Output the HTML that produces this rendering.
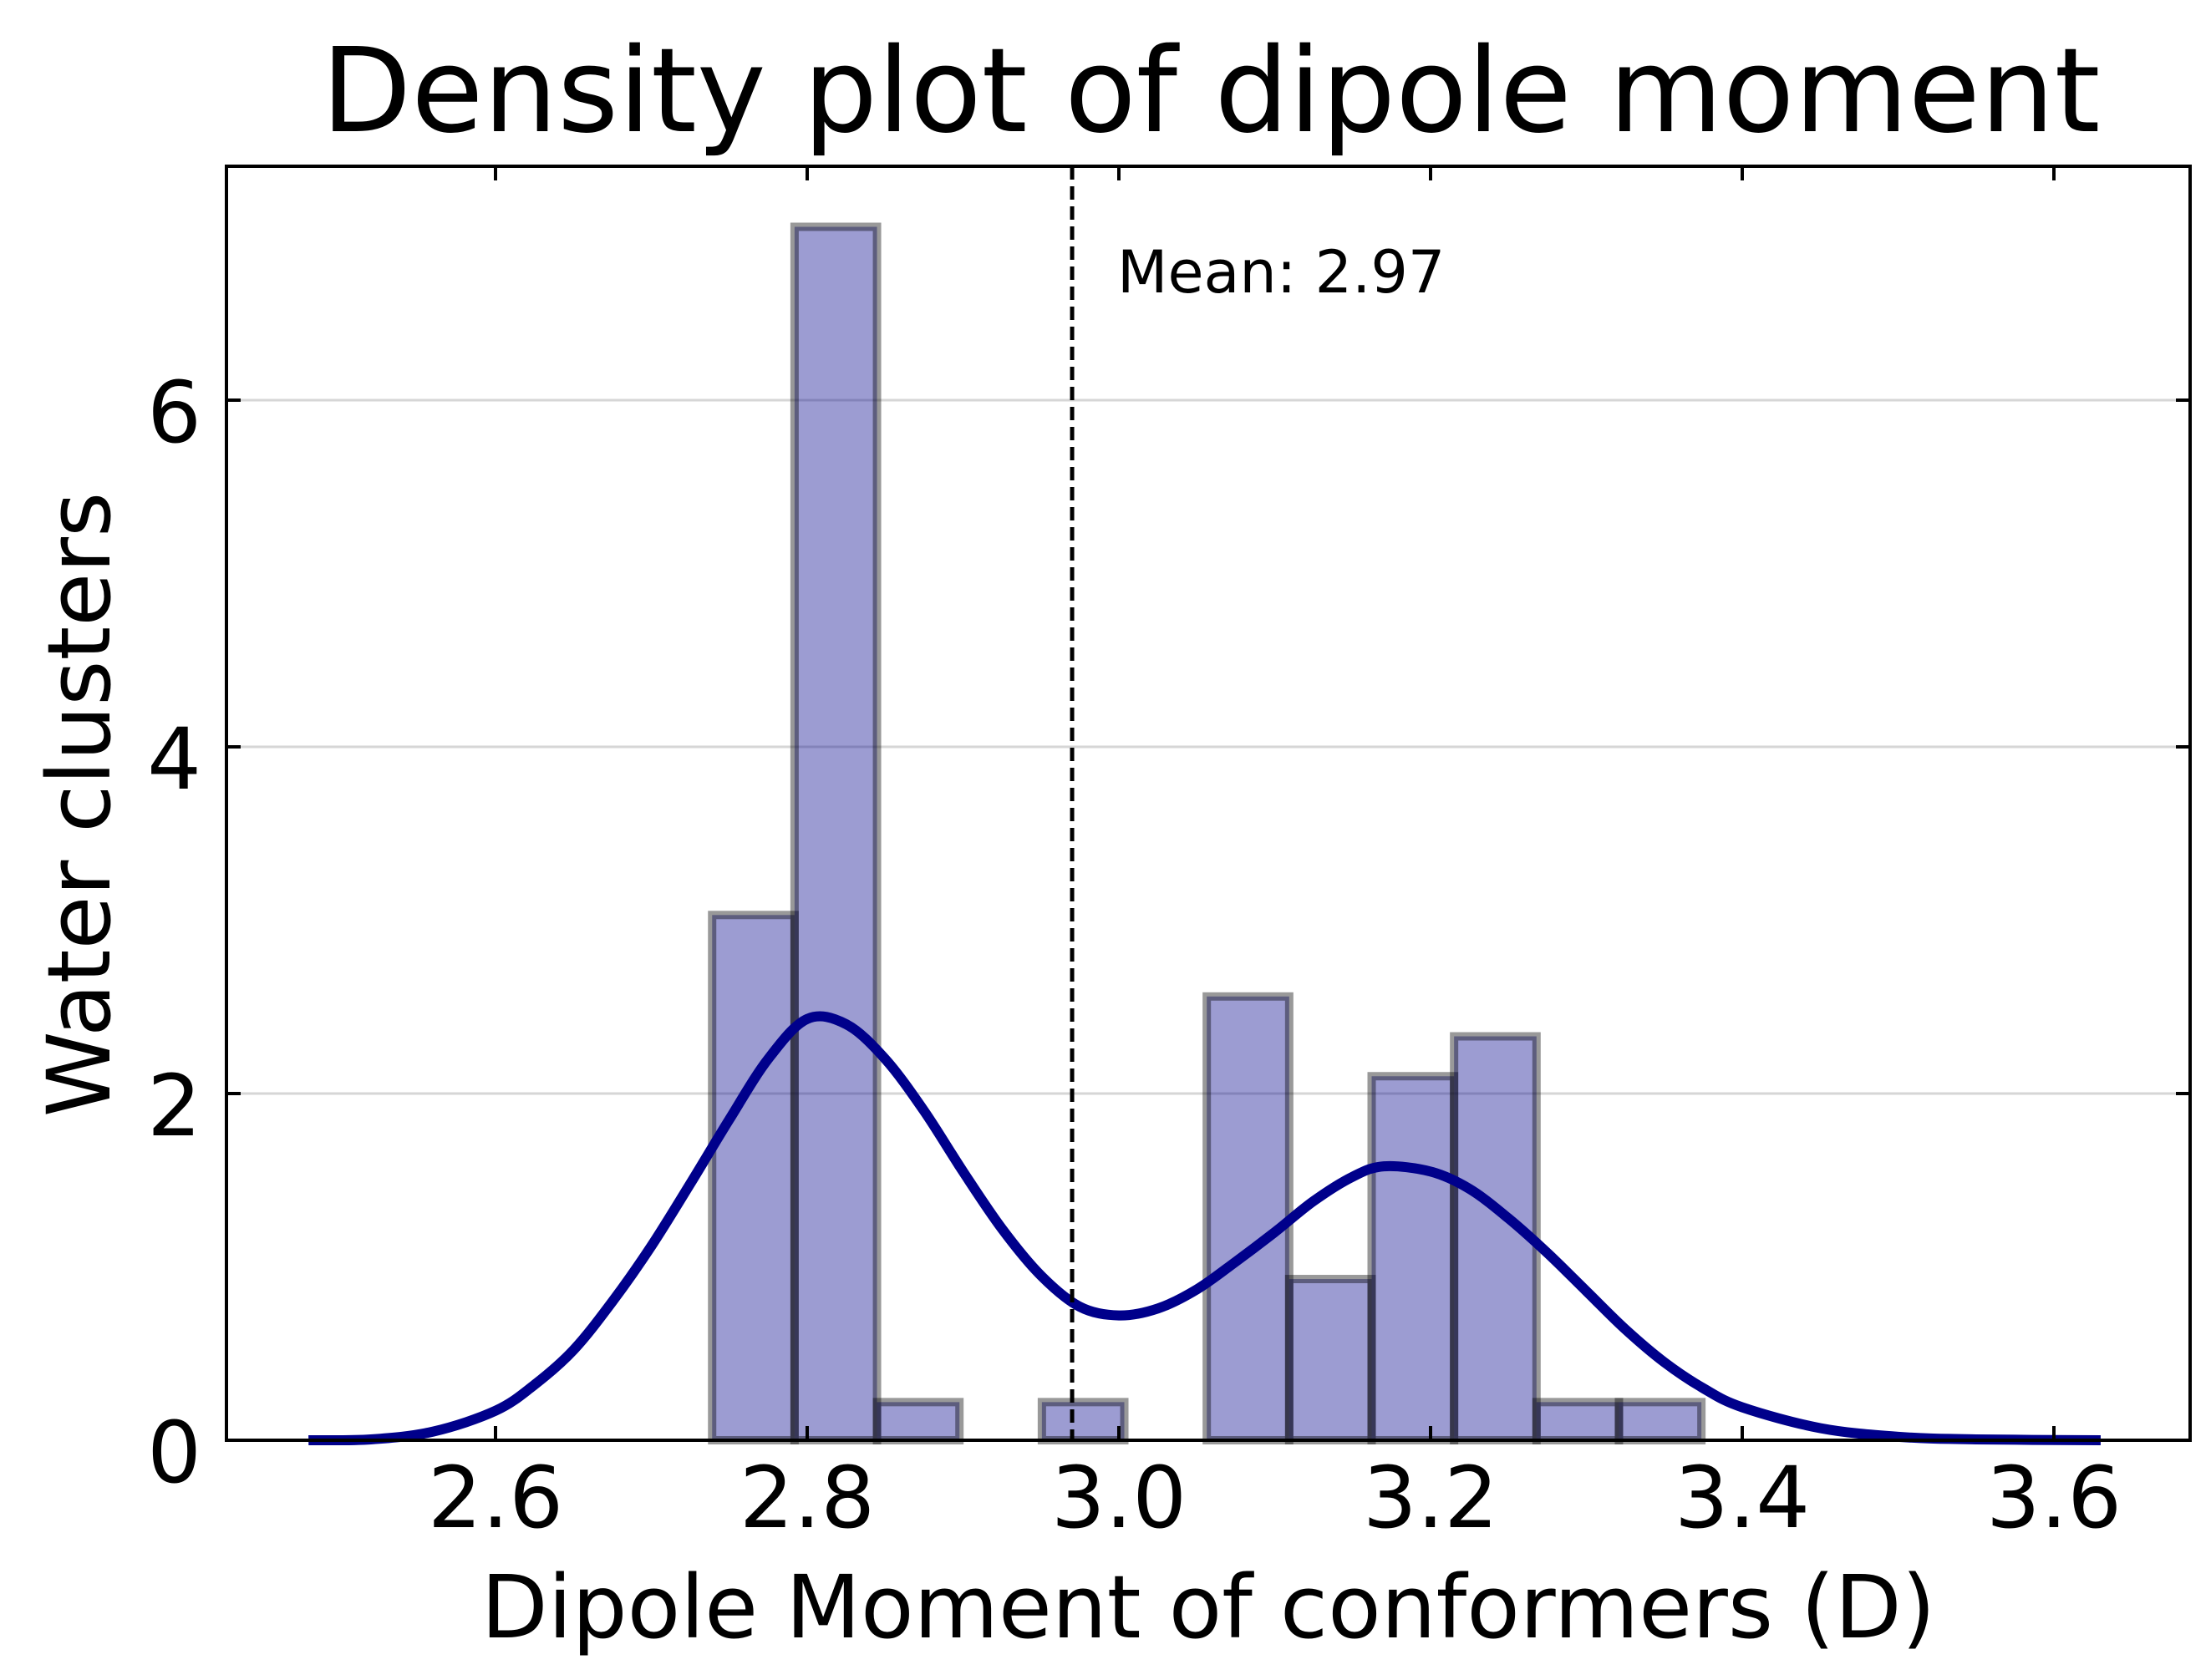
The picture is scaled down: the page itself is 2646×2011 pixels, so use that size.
<!DOCTYPE html>
<html><head><meta charset="utf-8"><style>
html,body{margin:0;padding:0;background:#fff;}
svg{display:block;font-family:"DejaVu Sans","Liberation Sans",sans-serif;}
</style></head><body>
<svg id="chart" width="2646" height="2011" viewBox="0 0 2646 2011" xmlns="http://www.w3.org/2000/svg">
<rect width="2646" height="2011" fill="#fff"/>
<g id="grid"></g>
<g id="bars"></g>
<g id="curve"></g>
<g id="mean"></g>
<g id="axes"></g>
<text x="1449" y="157" font-size="140" text-anchor="middle">Density plot of dipole moment</text>
<text x="1446" y="1960" font-size="104" text-anchor="middle">Dipole Moment of conformers (D)</text>
<text transform="translate(131,963) rotate(-90)" font-size="104" text-anchor="middle">Water clusters</text>
</svg>
<script>
const binStart = 2.739;
const binWidth = 0.0529;
const binHeights = [3.03, 7.0, 0.22, 0, 0.22, 0, 2.56, 0.93, 2.1, 2.33, 0.22, 0.22];
const kdeX = [2.48,2.52,2.56,2.6,2.625,2.65,2.675,2.7,2.725,2.75,2.775,2.8,2.825,2.85,2.875,2.9,2.925,2.95,2.975,3.0,3.025,3.05,3.075,3.1,3.125,3.15,3.17,3.2,3.225,3.25,3.275,3.3,3.325,3.35,3.375,3.4,3.45,3.5,3.55,3.63];
const kdeY = [0.0,0.005,0.05,0.17,0.32,0.52,0.8,1.12,1.48,1.85,2.2,2.43,2.4,2.2,1.9,1.55,1.22,0.95,0.77,0.72,0.76,0.87,1.03,1.2,1.38,1.52,1.58,1.55,1.45,1.28,1.08,0.86,0.64,0.45,0.3,0.19,0.07,0.02,0.005,0.0];
const meanValue = 2.97;
const xTicks = [2.6,2.8,3.0,3.2,3.4,3.6];
const xTickLabels = ["2.6","2.8","3.0","3.2","3.4","3.6"];
const yTicks = [0,2,4,6];
const yTickLabels = ["0","2","4","6"];

const L=271,R=2621,T=199,B=1724;
const sx=v=>593+(v-2.6)*1865;
const sy=v=>B-v*207.5;
const NS="http://www.w3.org/2000/svg";
function mk(tag,attrs,parent){const e=document.createElementNS(NS,tag);for(const k in attrs)e.setAttribute(k,attrs[k]);parent.appendChild(e);return e;}
const grid=document.getElementById('grid'),bars=document.getElementById('bars'),curve=document.getElementById('curve'),mean=document.getElementById('mean'),axes=document.getElementById('axes');
yTicks.forEach(v=>{if(v===0)return;const g=mk('line',{x1:L,x2:R,y1:sy(v),y2:sy(v),stroke:'#d6d6d6','stroke-width':3},grid);

});
binHeights.forEach((h,i)=>{if(h<=0)return;const x0=sx(binStart+i*binWidth),x1=sx(binStart+(i+1)*binWidth);
const r=mk('rect',{x:x0,y:sy(h),width:x1-x0,height:B-sy(h),fill:'rgba(0,0,139,0.39)',stroke:'rgba(0,0,0,0.4)','stroke-width':10},bars);

});
const pts=kdeX.map((x,i)=>[sx(x),sy(kdeY[i])]);
let d='M'+pts[0][0]+','+pts[0][1];
for(let i=0;i<pts.length-1;i++){const p0=pts[Math.max(0,i-1)],p1=pts[i],p2=pts[i+1],p3=pts[Math.min(pts.length-1,i+2)];
d+=' C'+(p1[0]+(p2[0]-p0[0])/6)+','+(p1[1]+(p2[1]-p0[1])/6)+' '+(p2[0]-(p3[0]-p1[0])/6)+','+(p2[1]-(p3[1]-p1[1])/6)+' '+p2[0]+','+p2[1];}
const kp=mk('path',{d:d,fill:'none',stroke:'#00008b','stroke-width':12,'stroke-linejoin':'round'},curve);


const ml=mk('line',{x1:sx(meanValue),x2:sx(meanValue),y1:T,y2:B,stroke:'#000','stroke-width':5,'stroke-dasharray':'16,8'},mean);


const mt=mk('text',{x:sx(meanValue)+54,y:350,'font-size':70},mean);mt.textContent='Mean: '+meanValue.toFixed(2);


const fr=mk('rect',{x:L,y:T,width:R-L,height:B-T,fill:'none',stroke:'#000','stroke-width':4},axes);


xTicks.forEach((v,i)=>{const x=sx(v);
mk('line',{x1:x,x2:x,y1:B,y2:B-17,stroke:'#000','stroke-width':4},axes);
mk('line',{x1:x,x2:x,y1:T,y2:T+17,stroke:'#000','stroke-width':4},axes);
const t=mk('text',{x:x,y:1828,'font-size':102,'text-anchor':'middle'},axes);t.textContent=xTickLabels[i];

});
yTicks.forEach((v,i)=>{const y=sy(v);
mk('line',{x1:L,x2:L+17,y1:y,y2:y,stroke:'#000','stroke-width':4},axes);
mk('line',{x1:R,x2:R-17,y1:y,y2:y,stroke:'#000','stroke-width':4},axes);
const t=mk('text',{x:L-30,y:y+50,'font-size':102,'text-anchor':'end'},axes);t.textContent=yTickLabels[i];

});
</script>
</body></html>
